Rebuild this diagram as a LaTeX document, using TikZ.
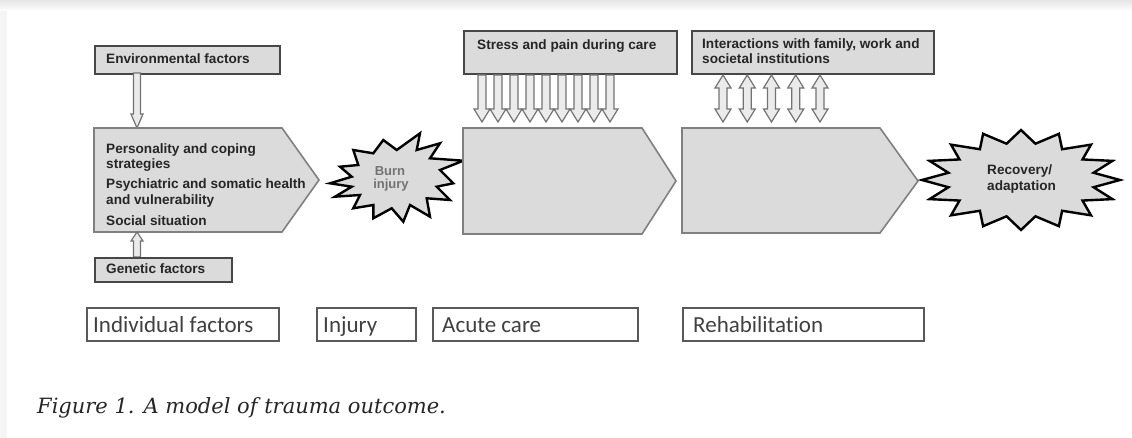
\documentclass[tikz,border=0pt]{standalone}
\usepackage{fontspec}
\setmainfont{Liberation Sans}
\newfontfamily\labfont[Ligatures=NoCommon]{Carlito}
\newfontfamily\capfont{DejaVu Serif}
\begin{document}
\begin{tikzpicture}[x=1pt,y=-1pt,
  smallbox/.style={draw=black!72, line width=2pt, fill=black!14, inner sep=0pt},
  pent/.style={draw=black!50, line width=1.6pt, fill=black!14},
  starshape/.style={draw=black, line width=2.4pt, fill=black!14, line join=miter},
  harrow/.style={draw=black!55, line width=1.2pt, fill=black!8},
  smalltxt/.style={font=\bfseries\fontsize{13.6}{15}\selectfont, text=black!85, inner sep=0pt, anchor=base west},
  fadetxt/.style={font=\bfseries\fontsize{13}{15}\selectfont, text=black!55, inner sep=0pt, anchor=base},
  labbox/.style={draw=black!65, line width=2pt, inner sep=0pt},
  labtxt/.style={font=\labfont\fontsize{23}{25}\selectfont, text=black!75, inner sep=0pt, anchor=base west}
]
\useasboundingbox (0,0) rectangle (1132,438);
\fill[white] (0,0) rectangle (1132,438);
\shade[top color=black!10, bottom color=white] (0,0) rectangle (1132,11);
\fill[black!4] (0,11) rectangle (7,438);

% ---------- Individual factors column ----------
\node[smallbox, anchor=north west, minimum width=185pt, minimum height=28pt] (env) at (94,45) {};
\node[smalltxt] (envt) at (106,63.5) {Environmental factors};

\draw[harrow] (133.5,73) -- (140.5,73) -- (140.5,114) -- (143,114) -- (137,128) -- (131,114) -- (133.5,114) -- cycle;

\draw[pent] (94,128) -- (282,128) -- (319,180) -- (282,232) -- (94,232) -- cycle;
\node[smalltxt] (ind1) at (106,153.5) {Personality and coping};
\node[smalltxt] (ind2) at (106,168.5) {strategies};
\node[smalltxt] (ind3) at (106,188.5) {Psychiatric and somatic health};
\node[smalltxt] (ind4) at (106,204.5) {and vulnerability};
\node[smalltxt] (ind5) at (106,225.5) {Social situation};

\draw[harrow] (133.5,257) -- (140.5,257) -- (140.5,241) -- (143,241) -- (137,232) -- (131,241) -- (133.5,241) -- cycle;

\node[smallbox, anchor=north west, minimum width=137pt, minimum height=24pt] (gen) at (94,257) {};
\node[smalltxt] (gent) at (106,273.5) {Genetic factors};

% ---------- Burn injury ----------
\draw[starshape] (330,183.3) -- (351.7,176.7) -- (340,166.7) -- (358.3,165) -- (353.3,150) -- (373.3,153.3) -- (383.3,140) -- (396.7,150) -- (420,133.3) -- (416.7,150) -- (440,143.3) -- (430,158.3) -- (463.3,160.7) -- (440,170) -- (453.3,183.3) -- (436.7,186.7) -- (450,200) -- (426.7,198.3) -- (430,216.7) -- (410,205) -- (403.3,221.7) -- (391.7,208.3) -- (373.3,218.3) -- (373.3,205) -- (353.3,208.3) -- (360,195) -- (335,196.7) -- (351.7,186.7) -- cycle;
\node[fadetxt] (burn1) at (390,175.5) {Burn};
\node[fadetxt] (burn2) at (391,188.5) {injury};

% ---------- Acute care ----------
\node[smallbox, anchor=north west, minimum width=213pt, minimum height=43pt] (stress) at (463,30) {};
\node[smalltxt] (stresst) at (477,49.5) {Stress and pain during care};
\foreach \i in {0,...,8} {
  \pgfmathsetmacro\cx{482+16*\i}
  \draw[harrow] (\cx-4,75) -- (\cx+4,75) -- (\cx+4,109) -- (\cx+8,109) -- (\cx,122) -- (\cx-8,109) -- (\cx-4,109) -- cycle;
}
\draw[pent] (463,128) -- (642,128) -- (676,181) -- (642,234) -- (463,234) -- cycle;

% ---------- Rehabilitation ----------
\node[smallbox, anchor=north west, minimum width=242pt, minimum height=43pt] (inter) at (691,30) {};
\node[smalltxt] (inter1) at (702,48.5) {Interactions with family, work and};
\node[smalltxt] (inter2) at (702,63.5) {societal institutions};
\foreach \i in {0,...,4} {
  \pgfmathsetmacro\cx{723+24.25*\i}
  \draw[harrow] (\cx,75) -- (\cx+8,88) -- (\cx+4,88) -- (\cx+4,109) -- (\cx+8,109) -- (\cx,122) -- (\cx-8,109) -- (\cx-4,109) -- (\cx-4,88) -- (\cx-8,88) -- cycle;
}
\draw[pent] (682,128) -- (880,128) -- (918,181) -- (880,233) -- (682,233) -- cycle;

% ---------- Recovery ----------
\draw[starshape] plot[samples at={0,...,32}] ({1021+ifthenelse(mod(\x,2)==0,99,74)*cos(\x*11.25)}, {180+ifthenelse(mod(\x,2)==0,50,37)*sin(\x*11.25)}) -- cycle;
\node[smalltxt] (rec1) at (987,174.5) {Recovery/};
\node[smalltxt] (rec2) at (987,190.5) {adaptation};

% ---------- Stage labels ----------
\node[labbox, anchor=north west, minimum width=192pt, minimum height=33pt] (lind) at (86,307) {};
\node[labtxt] (lindt) at (93,332) {Individual factors};
\node[labbox, anchor=north west, minimum width=99pt, minimum height=33pt] (linj) at (316,307) {};
\node[labtxt] (linjt) at (323,332) {Injury};
\node[labbox, anchor=north west, minimum width=205pt, minimum height=33pt] (lacu) at (432,307) {};
\node[labtxt] (lacut) at (442,332) {Acute care};
\node[labbox, anchor=north west, minimum width=241pt, minimum height=33pt] (lreh) at (682,307) {};
\node[labtxt] (lreht) at (693,332) {Rehabilitation};

% ---------- Caption ----------
\node[font=\capfont\itshape\fontsize{21}{23}\selectfont, text=black!85, inner sep=0pt, anchor=base west] (cap) at (37,413) {Figure 1. A model of trauma outcome.};
\end{tikzpicture}
\end{document}
